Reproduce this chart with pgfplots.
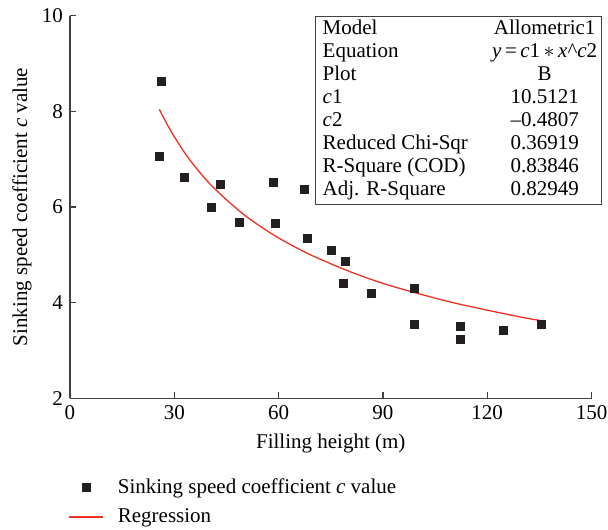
\documentclass[border=0pt]{standalone}
\usepackage{fontspec}
\setmainfont{Liberation Serif}
\usepackage{pgfplots}
\pgfplotsset{compat=1.18}
\definecolor{ptc}{HTML}{231F20}
\definecolor{regred}{HTML}{EE3124}
\definecolor{axc}{HTML}{404040}
\newcommand{\rc}[1]{\makebox[50pt][c]{#1}}
\begin{document}
\begin{tikzpicture}
\begin{axis}[name=ax, at={(0,0)}, anchor=south west,
  scale only axis, width=260.75pt, height=191.2pt,
  xmin=0, xmax=150, ymin=2, ymax=10,
  axis x line=bottom, axis y line=left,
  axis line style={-, draw=axc, line width=0.6pt},
  xtick={0,30,...,150}, ytick={2,4,...,10},
  tick align=inside, major tick length=3pt,
  tick style={draw=axc, line width=0.6pt},
  /pgf/number format/assume math mode=true,
  tick label style={font=\fontsize{10.5}{12}\selectfont},
  label style={font=\fontsize{10.5}{12}\selectfont},
  xlabel={Filling height (m)},
  ylabel={Sinking speed coefficient \textit{c} value},
  x label style={at={(axis description cs:0.5,-0.1177)}, anchor=center},
  y label style={at={(axis description cs:-0.092,0.5)}, anchor=center},
  clip=false,
  legend style={at={(axis description cs:-0.004,-0.198)}, anchor=north west,
    draw=none, fill=none, font=\fontsize{10.5}{12}\selectfont, row sep=2.2pt, inner sep=0pt,
    /tikz/every odd column/.append style={column sep=5pt}},
  legend cell align=left,
]
\addplot[only marks, mark=square*, mark size=2pt, color=ptc] coordinates {
(26.3,8.63) (25.7,7.06) (32.9,6.62) (43.2,6.47) (40.6,6.00) (48.7,5.68)
(58.5,6.51) (67.4,6.37) (59.0,5.66) (68.2,5.34) (75.2,5.09) (79.2,4.86)
(78.6,4.41) (86.7,4.18) (99.2,4.30) (99.0,3.54) (112.3,3.50) (112.3,3.23)
(124.6,3.42) (135.5,3.54)
};
\addlegendentry{Sinking speed coefficient \textit{c} value}
\addplot[color=regred, line width=0.65pt, smooth,
  legend image code/.code={\draw[draw=regred, line width=0.7pt] (0cm,0cm) -- (0.6cm,0cm);}] coordinates {
(25.7,8.04) (28,7.72) (30,7.47) (33,7.13) (36,6.84) (40,6.50) (45,6.15)
(50,5.84) (55,5.58) (60,5.35) (65,5.15) (70,4.97) (80,4.66) (90,4.40)
(100,4.19) (110,4.00) (120,3.84) (130,3.69) (135.5,3.62)
};
\addlegendentry{Regression}
\node[draw=axc, line width=0.6pt, fill=white, anchor=north west, inner xsep=3.5pt, inner ysep=1.2pt,
  font=\fontsize{10.5}{11.45}\selectfont]
  at (rel axis cs:0.470,1.0) {%
  \begin{tabular}{@{}p{86pt}@{}l@{}}
  Model & \rc{Allometric1}\\
  Equation & \rc{\textit{y}\,=\,\textit{c}1\,$\ast$\,\textit{x}\textasciicircum\textit{c}2}\\
  Plot & \rc{B}\\
  \textit{c}1 & \rc{10.5121}\\
  \textit{c}2 & \rc{\textendash0.4807}\\
  Reduced Chi-Sqr & \rc{0.36919}\\
  R-Square (COD) & \rc{0.83846}\\
  Adj. R-Square & \rc{0.82949}
  \end{tabular}};
\end{axis}
\pgfresetboundingbox
\path[use as bounding box] ([xshift=-35pt,yshift=-65.5pt]ax.south west) rectangle ([xshift=8.25pt,yshift=7.85pt]ax.north east);
\end{tikzpicture}
\end{document}
